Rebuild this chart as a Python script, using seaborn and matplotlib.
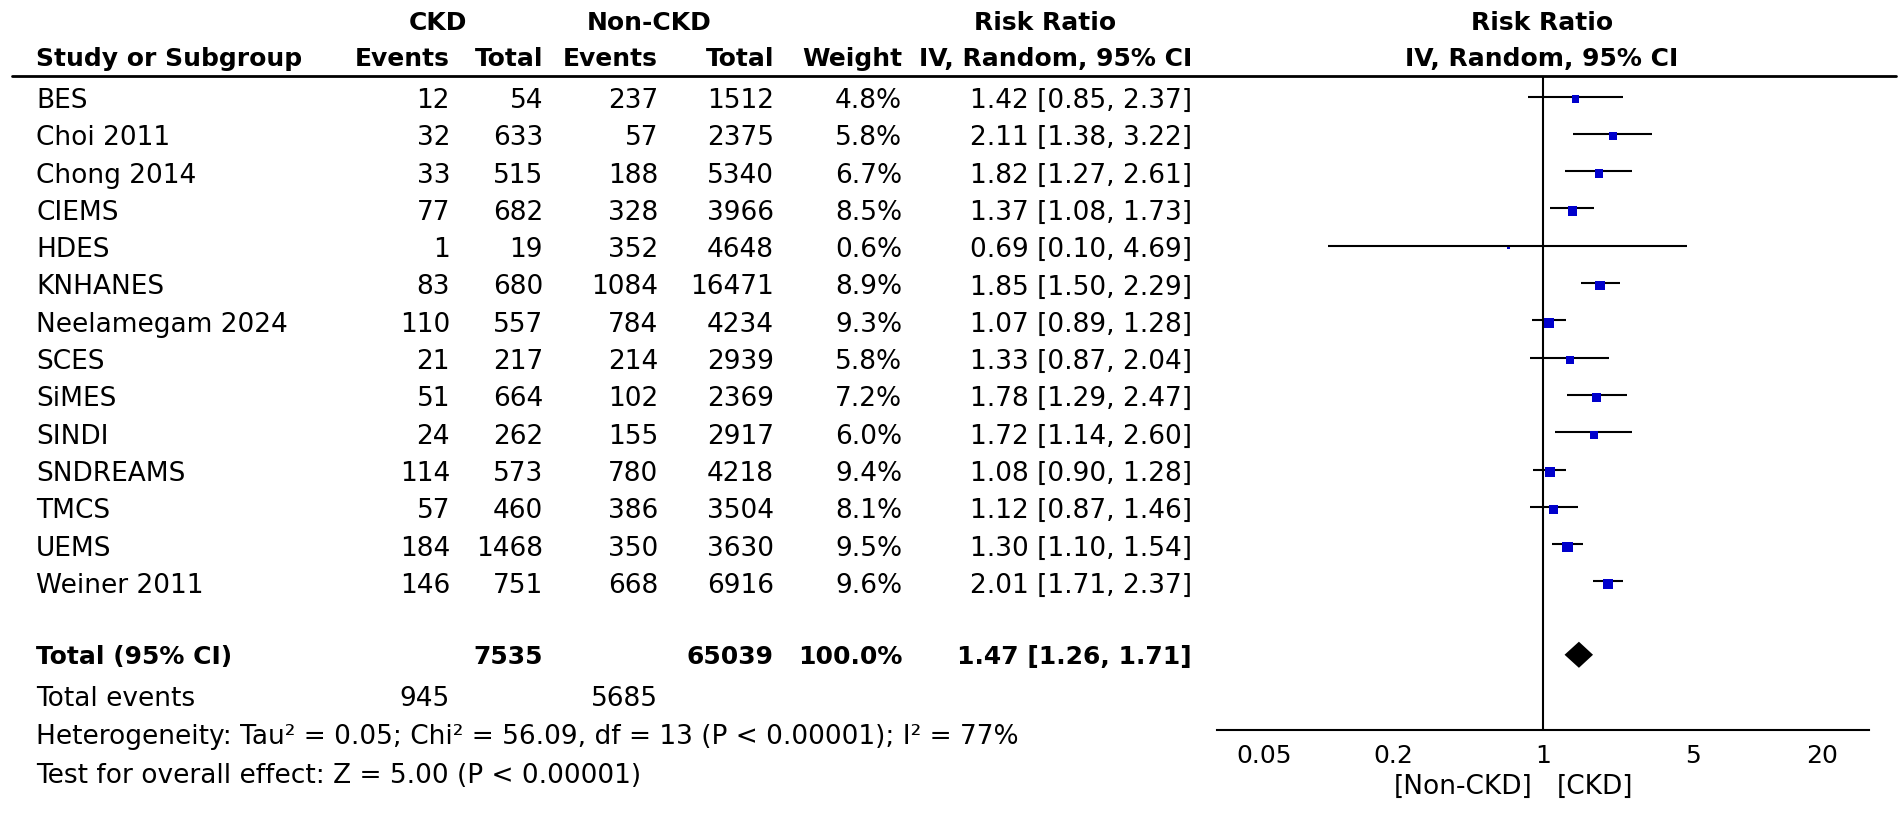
import numpy as np
import pandas as pd
import matplotlib
matplotlib.use("Agg")
import matplotlib.pyplot as plt
import seaborn as sns
from matplotlib import transforms
from matplotlib.lines import Line2D
from matplotlib.ticker import NullLocator

# ---------------- data ----------------
studies = ["BES", "Choi 2011", "Chong 2014", "CIEMS", "HDES", "KNHANES",
           "Neelamegam 2024", "SCES", "SiMES", "SINDI", "SNDREAMS", "TMCS",
           "UEMS", "Weiner 2011"]
ckd_events = [12, 32, 33, 77, 1, 83, 110, 21, 51, 24, 114, 57, 184, 146]
ckd_total = [54, 633, 515, 682, 19, 680, 557, 217, 664, 262, 573, 460, 1468, 751]
non_events = [237, 57, 188, 328, 352, 1084, 784, 214, 102, 155, 780, 386, 350, 668]
non_total = [1512, 2375, 5340, 3966, 4648, 16471, 4234, 2939, 2369, 2917, 4218,
             3504, 3630, 6916]
weight = [4.8, 5.8, 6.7, 8.5, 0.6, 8.9, 9.3, 5.8, 7.2, 6.0, 9.4, 8.1, 9.5, 9.6]
rr = [1.42, 2.11, 1.82, 1.37, 0.69, 1.85, 1.07, 1.33, 1.78, 1.72, 1.08, 1.12, 1.30, 2.01]
rr_lo = [0.85, 1.38, 1.27, 1.08, 0.10, 1.50, 0.89, 0.87, 1.29, 1.14, 0.90, 0.87, 1.10, 1.71]
rr_hi = [2.37, 3.22, 2.61, 1.73, 4.69, 2.29, 1.28, 2.04, 2.47, 2.60, 1.28, 1.46, 1.54, 2.37]

total_ckd_n = 7535
total_non_n = 65039
total_weight = "100.0%"
total_rr, total_lo, total_hi = 1.47, 1.26, 1.71
total_ckd_events = 945
total_non_events = 5685
het_text = "Heterogeneity: Tau² = 0.05; Chi² = 56.09, df = 13 (P < 0.00001); I² = 77%"
test_text = "Test for overall effect: Z = 5.00 (P < 0.00001)"
tick_values = [0.05, 0.2, 1, 5, 20]
tick_labels = ["0.05", "0.2", "1", "5", "20"]
favours_left = "[Non-CKD]"
favours_right = "[CKD]"

# ---------------- layout ----------------
W, H = 1901, 817
sns.set_style("white")
plt.rcParams["font.family"] = ["DejaVu Sans"]
plt.rcParams["text.color"] = "black"
plt.rcParams["xtick.color"] = "black"
plt.rcParams["axes.edgecolor"] = "black"
FS = 19      # regular table text
FSB = 18     # bold text

fig = plt.figure(figsize=(W / 100, H / 100), dpi=100)


def fx(px):
    return px / W


def fy(py):
    return 1 - py / H


AX_L, AX_R, AX_T, AX_B = 1217, 1869, 76, 730
ax = fig.add_axes([fx(AX_L), fy(AX_B), (AX_R - AX_L) / W, (AX_B - AX_T) / H])

ROW0, PITCH = 99, 37.3
n = len(studies)
df = pd.DataFrame({"study": studies, "rr": rr, "lo": rr_lo, "hi": rr_hi,
                   "weight": weight, "row": np.arange(n)})

# CI lines (sit slightly above the square centre, as in the original)
ax.hlines(df["row"], df["lo"], df["hi"], color="black", lw=1.5, zorder=2,
          transform=transforms.offset_copy(ax.transData, fig=fig, y=2.5,
                                           units="dots"))
# weighted squares (area proportional to weight)
sns.scatterplot(data=df, x="rr", y="row", size="weight", sizes=(0, 54),
                size_norm=(0, max(weight)), marker="s", color="#0000CC",
                edgecolor="none", linewidth=0, legend=False, ax=ax, zorder=3)

# pooled diamond
tot_row = n + 0.9
ax.fill([total_lo, total_rr, total_hi, total_rr],
        [tot_row, tot_row - 0.35, tot_row, tot_row + 0.35],
        color="black", zorder=3, lw=0)

ax.axvline(1, color="black", lw=1.5, zorder=1)

ax.set_xscale("log")
ax.set_xlim(1 / 33, 33)
ax.set_ylim((AX_B - ROW0) / PITCH, (AX_T - ROW0) / PITCH)
ax.set_xticks(tick_values)
ax.set_xticklabels(tick_labels)
ax.xaxis.set_minor_locator(NullLocator())
ax.set_yticks([])
ax.set_xlabel("")
ax.set_ylabel("")
ax.tick_params(axis="x", direction="inout", length=14, width=1.5,
               labelsize=18, pad=3, colors="black")
for s in ["left", "right", "top"]:
    ax.spines[s].set_visible(False)
ax.spines["bottom"].set_linewidth(1.5)
ax.spines["bottom"].set_color("black")
ax.patch.set_alpha(0)

# favours labels
fav_tr = transforms.blended_transform_factory(ax.transData, fig.transFigure)
ax.text(1, fy(787), favours_left, transform=transforms.offset_copy(
    fav_tr, fig=fig, x=-11, units="dots"), ha="right", va="center",
    fontsize=FS, color="black")
ax.text(1, fy(787), favours_right, transform=transforms.offset_copy(
    fav_tr, fig=fig, x=14, units="dots"), ha="left", va="center",
    fontsize=FS, color="black")

# top rule
fig.add_artist(Line2D([fx(12), fx(1896)], [fy(76), fy(76)], color="black", lw=2))

# ---------------- table text ----------------
row_tr = transforms.offset_copy(
    transforms.blended_transform_factory(fig.transFigure, ax.transData),
    fig=fig, y=-9, units="dots")

C_NAME = 36
C_CE, C_CT, C_NE, C_NT, C_W, C_RR = 450, 543, 658, 774, 902, 1192


def txt(xpx, row, s, ha="right", bold=False):
    fig.text(fx(xpx), row, s, transform=row_tr, ha=ha, va="baseline",
             fontsize=FSB if bold else FS, color="black",
             fontweight="bold" if bold else "normal")


for i in range(n):
    txt(C_NAME, i, studies[i], ha="left")
    txt(C_CE, i, str(ckd_events[i]))
    txt(C_CT, i, str(ckd_total[i]))
    txt(C_NE, i, str(non_events[i]))
    txt(C_NT, i, str(non_total[i]))
    txt(C_W, i, f"{weight[i]:.1f}%")
    txt(C_RR, i, f"{rr[i]:.2f} [{rr_lo[i]:.2f}, {rr_hi[i]:.2f}]")

txt(C_NAME, tot_row, "Total (95% CI)", ha="left", bold=True)
txt(C_CT, tot_row, str(total_ckd_n), bold=True)
txt(C_NT, tot_row, str(total_non_n), bold=True)
txt(C_W, tot_row, total_weight, bold=True)
txt(C_RR, tot_row, f"{total_rr:.2f} [{total_lo:.2f}, {total_hi:.2f}]", bold=True)

r_ev = (697 - ROW0) / PITCH
r_het = (735 - ROW0) / PITCH
r_test = (774 - ROW0) / PITCH
txt(C_NAME, r_ev, "Total events", ha="left")
txt(C_CE, r_ev, str(total_ckd_events))
txt(C_NE, r_ev, str(total_non_events))
txt(C_NAME, r_het, het_text, ha="left")
txt(C_NAME, r_test, test_text, ha="left")

# headers


def htxt(xpx, ypx, s, ha):
    fig.text(fx(xpx), fy(ypx + 9), s, ha=ha, va="baseline", fontsize=FSB,
             fontweight="bold", color="black")


htxt(438, 21, "CKD", "center")
htxt(649, 21, "Non-CKD", "center")
htxt(1045, 21, "Risk Ratio", "center")
htxt(1542, 21, "Risk Ratio", "center")
htxt(C_NAME, 57, "Study or Subgroup", "left")
htxt(C_CE, 57, "Events", "right")
htxt(C_CT, 57, "Total", "right")
htxt(C_NE, 57, "Events", "right")
htxt(C_NT, 57, "Total", "right")
htxt(C_W, 57, "Weight", "right")
htxt(C_RR, 57, "IV, Random, 95% CI", "right")
htxt(1542, 57, "IV, Random, 95% CI", "center")

fig.savefig("out.png", dpi=100, facecolor="white")
